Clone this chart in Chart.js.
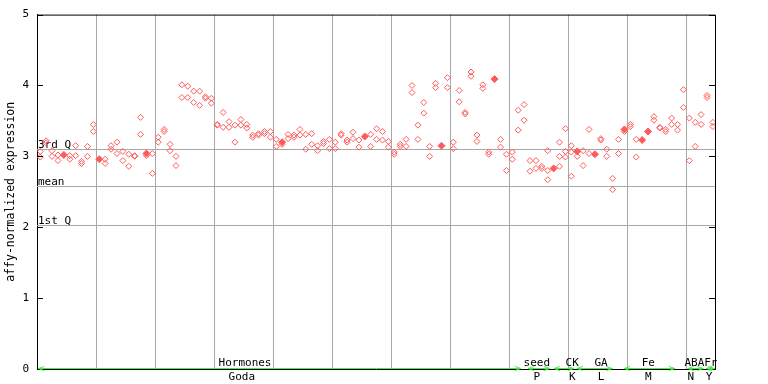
<!DOCTYPE html>
<html>
<head>
<meta charset="utf-8">
<script src="https://cdn.jsdelivr.net/npm/chart.js@4.4.0/dist/chart.umd.min.js"></script>
<style>
  html, body { margin: 0; padding: 0; background: #fff; }
  #wrap { width: 768px; height: 384px; }
</style>
</head>
<body>
<div id="wrap"><canvas id="chart"></canvas></div>
<script>
// replicate values per sample column (null = no point)
const repA = [3.07,3.22,3.08,3.02,null,3.01,3.15,2.93,3.14,3.45, null,2.96,3.15,3.20,3.07,3.03,3.01,3.55,null,3.04,
  3.27,3.38,3.17,3.00,4.01,3.99,3.92,3.92,3.84,3.82, 3.45,3.62,3.49,3.44,3.52,3.45,3.30,3.32,3.35,3.35,
  3.24,null,3.31,3.30,3.38,3.31,3.32,3.15,3.21,3.24, 3.20,3.32,3.23,3.34,3.23,null,3.31,3.39,3.35,3.21,
  3.06,3.17,3.24,4.00,3.44,3.76,3.14,4.03,null,4.11, 3.20,3.93,3.62,4.19,3.30,4.01,3.06,null,3.24,3.03,
  3.06,3.65,3.73,2.94,2.94,2.86,3.08,null,3.20,3.39, 3.15,null,3.08,3.38,null,3.25,3.10,2.69,3.24,null,
  3.45,3.24,null,null,3.56,3.41,3.38,3.54,3.45,3.94, 3.54,3.48,3.59,3.86,3.48];
const repB = [2.99,3.19,3.00,2.94,null,2.96,3.01,2.90,3.00,3.35, null,2.90,3.10,3.04,2.94,2.86,3.00,3.31,3.01,2.76,
  3.20,3.35,3.08,2.87,3.83,3.83,3.76,3.72,3.82,3.75, 3.44,3.41,3.41,3.20,3.44,3.40,3.27,3.30,3.32,3.27,
  3.14,3.17,3.25,3.27,3.30,3.10,3.17,3.08,3.18,3.11, 3.11,3.30,3.20,3.25,3.13,null,3.14,3.24,3.23,3.13,
  3.03,3.14,3.14,3.90,3.24,3.61,3.00,3.97,null,3.97, 3.11,3.77,3.60,4.13,3.21,3.96,3.03,null,3.13,2.80,
  2.96,3.37,3.51,2.79,2.83,2.83,2.80,null,3.00,3.07, 3.06,3.00,2.87,3.04,null,3.23,3.00,2.53,3.04,3.35,
  3.42,2.99,null,null,3.51,3.40,3.35,3.45,3.37,3.69, 2.94,3.14,3.45,3.83,3.42];
const repC = {86: 2.67, 88: 2.86, 89: 2.99, 90: 2.72};
const filledVals = {4: 3.02, 10: 2.96, 18: 3.04, 41: 3.20, 55: 3.28, 68: 3.15, 77: 4.09,
  87: 2.83, 91: 3.07, 94: 3.03, 99: 3.38, 102: 3.23, 103: 3.35};

const qValues = [3.10, 2.58, 2.03];
const qLabels = ['3rd Q', 'mean', '1st Q'];

const groupNames = ['Hormones', 'seed', 'CK', 'GA', 'Fe', 'ABA', 'Fr'];
const groupPos = [35.25, 84.7, 90.7, 95.6, 103.6, 111.4, 114.2];
const seriesNames = ['Goda', 'P', 'K', 'L', 'M', 'N', 'Y'];
const seriesPos = [34.7, 84.7, 90.7, 95.6, 103.6, 110.8, 113.9];
const segStart = [0.2, 83.2, 87.6, 91.5, 99.5, 110.3, 113.4];
const segEnd = [82.0, 86.9, 91.0, 97.5, 108.1, 112.9, 114.8];

const colX = i => i + 0.55;
const hollow = [];
repA.forEach((v, i) => { if (v != null) hollow.push({x: colX(i), y: v}); });
repB.forEach((v, i) => { if (v != null) hollow.push({x: colX(i), y: v}); });
Object.keys(repC).forEach(k => hollow.push({x: colX(+k), y: repC[k]}));
const solid = Object.keys(filledVals).map(k => ({x: colX(+k), y: filledVals[k]}));

const RED = '#ff5a5a';
const GRID = '#a8a8a8';
const FONT = '"DejaVu Sans Mono", monospace';

const decorations = {
  id: 'decorations',
  beforeDatasetsDraw(chart) {
    const {ctx, chartArea: a, scales: {x, y}} = chart;
    ctx.save();
    // quartile / mean lines
    ctx.strokeStyle = GRID;
    ctx.lineWidth = 1;
    ctx.font = '11px ' + FONT;
    ctx.fillStyle = '#000';
    ctx.textBaseline = 'alphabetic';
    ctx.textAlign = 'left';
    qValues.forEach((v, i) => {
      const py = Math.round(y.getPixelForValue(v)) + 0.5;
      ctx.beginPath();
      ctx.moveTo(a.left, py);
      ctx.lineTo(a.right, py);
      ctx.stroke();
      ctx.fillText(qLabels[i], a.left + 1, py - 2);
    });
    ctx.restore();
  },
  afterDraw(chart) {
    const {ctx, chartArea: a, scales: {x, y}} = chart;
    ctx.save();
    ctx.strokeStyle = '#000';
    ctx.lineWidth = 1;
    // top and right frame
    ctx.beginPath();
    ctx.moveTo(a.left, a.top + 0.5);
    ctx.lineTo(a.right + 0.5, a.top + 0.5);
    ctx.lineTo(a.right + 0.5, a.bottom);
    ctx.stroke();
    // inward tick marks
    y.ticks.forEach(t => {
      const py = Math.round(y.getPixelForValue(t.value)) + 0.5;
      ctx.beginPath();
      ctx.moveTo(a.left, py); ctx.lineTo(a.left + 6, py);
      ctx.moveTo(a.right - 6, py); ctx.lineTo(a.right, py);
      ctx.stroke();
    });
    // green group arrows
    const gy = Math.round(a.bottom) - 0.5;
    ctx.strokeStyle = '#44ee44';
    segStart.forEach((s, i) => {
      const x0 = x.getPixelForValue(s), x1 = x.getPixelForValue(segEnd[i]);
      ctx.beginPath();
      ctx.moveTo(x0, gy); ctx.lineTo(x1, gy);
      ctx.moveTo(x0 + 6, gy - 2); ctx.lineTo(x0, gy); ctx.lineTo(x0 + 6, gy + 2);
      ctx.moveTo(x1 - 6, gy - 2); ctx.lineTo(x1, gy); ctx.lineTo(x1 - 6, gy + 2);
      ctx.stroke();
    });
    // group and series labels
    ctx.fillStyle = '#000';
    ctx.font = '11px ' + FONT;
    ctx.textAlign = 'center';
    ctx.textBaseline = 'alphabetic';
    groupNames.forEach((n, i) => ctx.fillText(n, x.getPixelForValue(groupPos[i]), a.bottom - 3));
    ctx.textBaseline = 'top';
    seriesNames.forEach((n, i) => ctx.fillText(n, x.getPixelForValue(seriesPos[i]), a.bottom + 3));
    ctx.restore();
  }
};

new Chart(document.getElementById('chart'), {
  type: 'scatter',
  data: {
    datasets: [
      {
        data: hollow,
        pointStyle: 'rectRot',
        pointRadius: 3,
        borderWidth: 1,
        borderColor: RED,
        backgroundColor: 'rgba(255,255,255,0)'
      },
      {
        data: solid,
        pointStyle: 'rectRot',
        pointRadius: 3.5,
        borderWidth: 1,
        borderColor: RED,
        backgroundColor: RED
      }
    ]
  },
  options: {
    responsive: true,
    maintainAspectRatio: false,
    animation: false,
    layout: { padding: { top: 13, right: 53, left: 0, bottom: 0 } },
    plugins: { legend: { display: false }, tooltip: { enabled: false } },
    scales: {
      x: {
        type: 'linear',
        min: 0,
        max: 114.9,
        afterFit: s => { s.height = 15; },
        ticks: { display: false, stepSize: 10, includeBounds: false },
        grid: {
          color: c => (c.tick && c.tick.value === 0 ? 'rgba(0,0,0,0)' : GRID),
          lineWidth: 1,
          drawTicks: false
        },
        border: { display: true, color: '#000', width: 1 }
      },
      y: {
        min: 0,
        max: 5,
        afterFit: s => { s.width = 37; },
        ticks: { stepSize: 1, padding: 8, color: '#000', font: { family: FONT, size: 11 } },
        grid: { display: true, drawOnChartArea: false, drawTicks: false },
        border: { display: true, color: '#000', width: 1 },
        title: {
          display: true,
          text: 'affy-normalized expression',
          color: '#000',
          font: { family: FONT, size: 11.5 },
          padding: { top: 4, bottom: 0 }
        }
      }
    }
  },
  plugins: [decorations]
});
</script>
</body>
</html>
